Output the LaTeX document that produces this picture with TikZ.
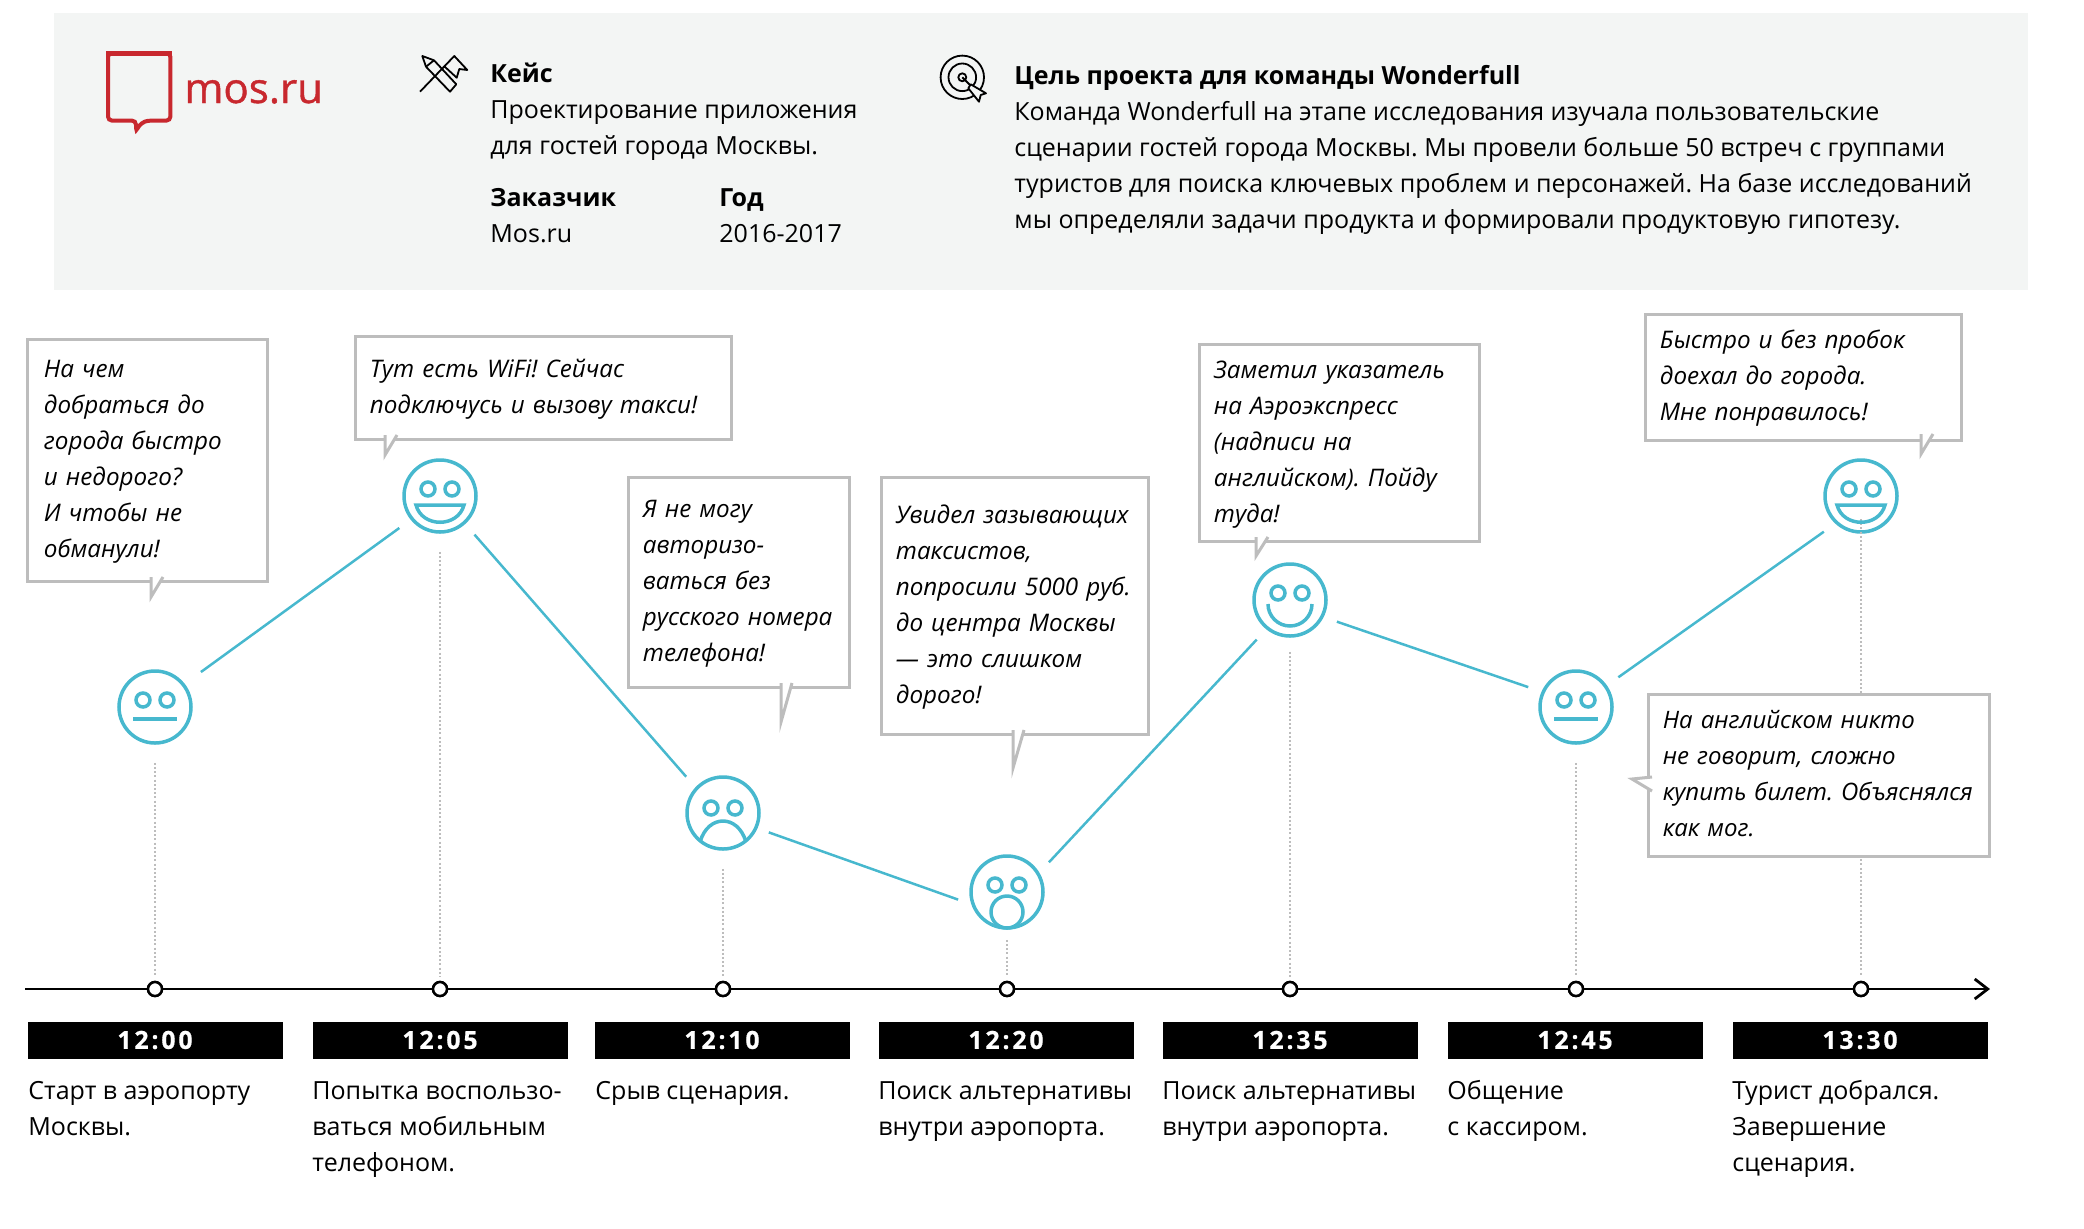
\documentclass[tikz,border=0pt]{standalone}
\usepackage{fontspec}
\setmainfont{Open Sans}
\newfontfamily\timefont{Open Sans}[LetterSpace=11,FakeBold=0.5]
\newfontfamily\logofont{Open Sans}[FakeBold=1]
\usepackage{tikz}
\usetikzlibrary{arrows.meta}

\definecolor{panelgray}{HTML}{F3F5F4}
\definecolor{bubblegray}{HTML}{BDBDBD}
\definecolor{faceblue}{HTML}{47B8CE}
\definecolor{logored}{HTML}{C8282E}

\tikzset{
	plain/.style={anchor=north west,inner sep=0pt,align=left,font=\fontsize{12.5}{18}\selectfont},
	title/.style={plain,font=\fontsize{12.5}{18}\selectfont\bfseries},
	bubble/.style={draw=bubblegray,line width=1.5pt,fill=white,anchor=north west,align=left,inner xsep=7.2pt,inner ysep=0pt,font=\fontsize{12.1}{18}\selectfont\itshape},
	bubbletail/.style={draw=bubblegray,line width=1.5pt,fill=white},
	face/.style={circle,draw=faceblue,line width=1.75pt,inner sep=0pt,minimum size=36pt},
	faceline/.style={draw=faceblue,line width=1.75pt},
	link/.style={draw=faceblue,line width=1.25pt,shorten <=7pt,shorten >=7pt},
	dots/.style={draw=bubblegray,line width=1.1pt,dash pattern=on 1pt off 1.1pt,shorten >=2pt},
	tick/.style={circle,draw=black,fill=white,line width=1.25pt,inner sep=0pt,minimum size=7pt},
	timebox/.style={fill=black,text=white,minimum width=127.5pt,minimum height=18.5pt,inner sep=0pt,font=\fontsize{12.5}{12.5}\timefont\bfseries},
	icon/.style={draw=black,line width=0.9pt,line join=round}
}
\newcommand{\faceeyes}[2][-7]{
	\draw[faceline,shift={(#2.center)}] (-12,#1) circle (7);
	\draw[faceline,shift={(#2.center)}] (12,#1) circle (7);
}

\begin{document}
\frenchspacing
\begin{tikzpicture}[x=0.5pt,y=-0.5pt]
	\useasboundingbox (0,0) rectangle (2084,1228);
	% header
	\fill[panelgray] (54,13) rectangle (2028,290);
	\draw[logored,line width=2pt,rounded corners=2pt] (108,53) -- (170.4,53) -- (170.4,120.6) -- (152,120.6) .. controls (144,121) and (139,125) .. (136,132) -- (136,120.6) -- (108,120.6) -- cycle;
	\draw[logored,line width=2.5pt] (106,53.5) -- (172.4,53.5);
	\node[anchor=base west,inner sep=0pt,text=logored,font=\fontsize{21}{21}\logofont] (logo) at (184,103) {mos.ru};
	% pencil and flag
	\draw[icon] (422.3,56) -- (434,60.3) -- (456.3,84.3) -- (450,91.7) -- (426,66.7) -- cycle;
	\draw[icon] (426,66.7) -- (434,60.3);
	\draw[icon] (420,91.7) -- (454.3,56) -- (467.3,70) -- (459.3,69) -- (456.7,77.7) -- (444,66);
	% target
	\draw[icon] (962.3,77.3) circle (21.7);
	\draw[icon] (962.3,77.3) circle (13.8);
	\draw[icon] (962.3,77.3) circle (4);
	\draw[icon] (962.3,77.3) -- (970,85);
	\draw[icon,fill=panelgray] (970.7,84.3) -- (986,93.3) -- (980.7,95) -- (979,101.7) -- (968.3,88.3) -- cycle;
	\node[title] (casehead) at (490,57) {\strut Кейс};
	\node[plain] (casetext) at (490,93) {\strut Проектирование приложения\\для гостей города Москвы.};
	\node[title] (clienthead) at (490,180.5) {\strut Заказчик};
	\node[plain] (clienttext) at (490,216.5) {\strut Mos.ru};
	\node[title] (yearhead) at (719,180.5) {\strut Год};
	\node[plain] (yeartext) at (719,216.5) {\strut 2016-2017};
	\node[title] (goalhead) at (1014,59) {\strut Цель проекта для команды Wonderfull};
	\node[plain] (goaltext) at (1014,95) {\strut Команда Wonderfull на этапе исследования изучала пользовательские\\сценарии гостей города Москвы. Мы провели больше 50 встреч с группами\\туристов для поиска ключевых проблем и персонажей. На базе исследований\\мы определяли задачи продукта и формировали продуктовую гипотезу.};
	% faces
	\node[face] (s1) at (155,707) {};
	\node[face] (s2) at (440,496) {};
	\node[face] (s3) at (723,813) {};
	\node[face] (s4) at (1007,892) {};
	\node[face] (s5) at (1290,600) {};
	\node[face] (s6) at (1576,707) {};
	\node[face] (s7) at (1861,496) {};
	% time line
	\coordinate (linestart) at (25,989);
	\coordinate (lineend) at (1990,989);
	\coordinate (d7) at (1861,519);
	\node[tick] (t1) at (155,989) {};
	\node[tick] (t2) at (440,989) {};
	\node[tick] (t3) at (723,989) {};
	\node[tick] (t4) at (1007,989) {};
	\node[tick] (t5) at (1290,989) {};
	\node[tick] (t6) at (1576,989) {};
	\node[tick] (t7) at (1861,989) {};
	\draw[dots,shorten <=9pt] (s1) -- (t1);
	\draw[dots,shorten <=9pt] (s2) -- (t2);
	\draw[dots,shorten <=9pt] (s3) -- (t3);
	\draw[dots,shorten <=5pt] (s4) -- (t4);
	\draw[dots,shorten <=7pt] (s5) -- (t5);
	\draw[dots,shorten <=9pt] (s6) -- (t6);
	\draw[dots] (d7) -- (t7);
	\draw[line width=1.4pt,-{Straight Barb[length=6.5pt,width=10pt]}] (linestart) -- (lineend);
	\node[tick] at (t1) {};
	\node[tick] at (t2) {};
	\node[tick] at (t3) {};
	\node[tick] at (t4) {};
	\node[tick] at (t5) {};
	\node[tick] at (t6) {};
	\node[tick] at (t7) {};
	% links between faces
	\draw[link,shorten <=10pt] (s1.38) -- (s2.219);
	\draw[link] (s2.-48) -- (s3.137);
	\draw[link,shorten <=6pt] (s3.-24) -- (s4.199);
	\draw[link] (s4.31) -- (s5.231);
	\draw[link] (s5.-27) -- (s6.156);
	\draw[link] (s6.35) -- (s7.227);
	% eyes and mouths
	\faceeyes{s1}
	\draw[faceline,shift={(s1.center)}] (-22,12) -- (22,12);
	\faceeyes{s2}
	\draw[faceline,shift={(s2.center)}] (-24,9) -- (24,9) .. controls (18,32) and (-18,32) .. cycle;
	\faceeyes[-5]{s3}
	\draw[faceline,shift={(s3.center)}] (-23,29) .. controls (-15,1) and (15,1) .. (23,29);
	\faceeyes{s4}
	\draw[faceline,shift={(s4.center)}] (0,20) circle (16);
	\faceeyes{s5}
	\draw[faceline,shift={(s5.center)}] (-22,4) arc[start angle=180,end angle=0,radius=22];
	\faceeyes{s6}
	\draw[faceline,shift={(s6.center)}] (-22,12) -- (22,12);
	\faceeyes{s7}
	\draw[faceline,shift={(s7.center)}] (-24,9) -- (24,9) .. controls (18,32) and (-18,32) .. cycle;
	% bubbles
	\node[bubble,inner xsep=8.2pt,text width=103.6pt,minimum height=121pt] (b1) at (26,338) {\strut На чем\\добраться до\\города быстро\\и недорого?\\И чтобы не\\обманули!\strut};
	\node[bubble,text width=173.6pt,minimum height=51.5pt] (b2) at (354,335) {\strut Тут есть WiFi! Сейчас\\подключусь и вызову такси!\strut};
	\node[bubble,text width=96.1pt,minimum height=105pt] (b3) at (627,476) {\strut Я не могу\\авторизо-\\ваться без\\русского номера\\телефона!\strut};
	\node[bubble,text width=119.1pt,minimum height=128.5pt] (b4) at (880,476) {\strut Увидел зазывающих\\таксистов,\\попросили 5000 руб.\\до центра Москвы\\— это слишком\\дорого!\strut};
	\node[bubble,text width=125.6pt,minimum height=98.5pt] (b5) at (1198,343) {\strut Заметил указатель\\на Аэроэкспресс\\(надписи на\\английском). Пойду\\туда!\strut};
	\node[bubble,text width=143.6pt,minimum height=63pt] (b6) at (1644,313) {\strut Быстро и без пробок\\доехал до города.\\Мне понравилось!\strut};
	\node[bubble,text width=156.1pt,minimum height=81.2pt,font=\fontsize{12}{18}\selectfont\itshape] (b7) at (1647,693) {\strut На английском никто\\не говорит, сложно\\купить билет. Объяснялся\\как мог.\strut};
	\draw[bubbletail] (151,577) -- (151,597) -- (163,577);
	\draw[bubbletail] (385,435) -- (385,455) -- (397,435);
	\draw[bubbletail] (781,683) -- (781,722) -- (792,683);
	\draw[bubbletail] (1013,730) -- (1013,768) -- (1024,730);
	\draw[bubbletail] (1256,537) -- (1256,556) -- (1268,537);
	\draw[bubbletail] (1921,434) -- (1921,454) -- (1933,434);
	\draw[bubbletail] (1652,777) -- (1632,779) -- (1652,791);
	% times and captions
	\node[timebox] (h1) at (155,1040) {12:00};
	\node[timebox] (h2) at (440,1040) {12:05};
	\node[timebox] (h3) at (722,1040) {12:10};
	\node[timebox] (h4) at (1006,1040) {12:20};
	\node[timebox] (h5) at (1290,1040) {12:35};
	\node[timebox] (h6) at (1575,1040) {12:45};
	\node[timebox] (h7) at (1860,1040) {13:30};
	\node[plain] (c1) at (28,1073.5) {\strut Старт в аэропорту\\Москвы.};
	\node[plain] (c2) at (312,1073.5) {\strut Попытка воспользо-\\ваться мобильным\\телефоном.};
	\node[plain] (c3) at (595,1073.5) {\strut Срыв сценария.};
	\node[plain] (c4) at (878,1073.5) {\strut Поиск альтернативы\\внутри аэропорта.};
	\node[plain] (c5) at (1162,1073.5) {\strut Поиск альтернативы\\внутри аэропорта.};
	\node[plain] (c6) at (1447,1073.5) {\strut Общение\\с кассиром.};
	\node[plain] (c7) at (1732,1073.5) {\strut Турист добрался.\\Завершение\\сценария.};
\end{tikzpicture}
\end{document}
